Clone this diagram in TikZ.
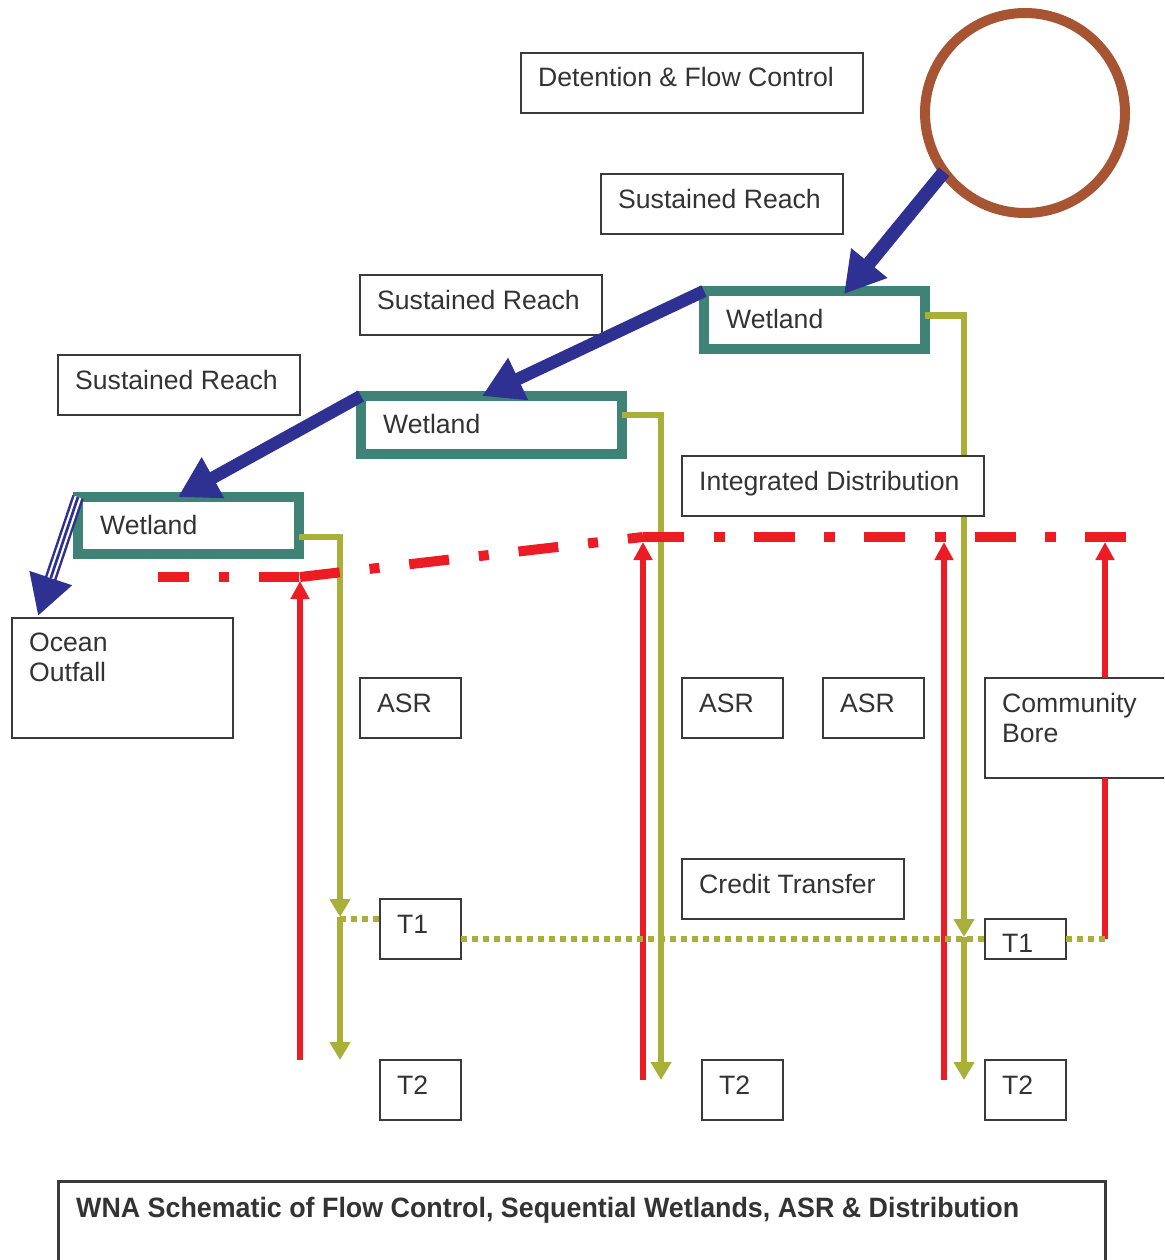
\documentclass[tikz,border=0pt]{standalone}
\usepackage{fontspec}
\setmainfont{Liberation Sans}
\usetikzlibrary{arrows.meta}

\definecolor{wetteal}{RGB}{63,131,118}
\definecolor{ringbrown}{RGB}{166,84,50}
\definecolor{flowblue}{RGB}{46,49,146}
\definecolor{feedolive}{RGB}{168,176,58}
\definecolor{distred}{RGB}{237,28,36}
\definecolor{boxgray}{RGB}{58,58,58}
\definecolor{inkgray}{RGB}{51,51,51}

\begin{document}
\begin{tikzpicture}[x=1pt,y=-1pt,
  box/.style={draw=boxgray, line width=2.5pt, fill=white, anchor=north west,
    inner sep=0pt, outer sep=0pt},
  wet/.style={draw=wetteal, line width=10pt, fill=white, anchor=north west,
    inner sep=0pt, outer sep=0pt},
  txt/.style={font=\fontsize{26.6}{30}\selectfont, text=inkgray,
    anchor=base west, inner sep=0pt},
  flow/.style={draw=flowblue, line width=12.5pt, -{Triangle[length=40pt,width=44pt]}},
  feed/.style={draw=feedolive, line width=6.5pt, -{Triangle[length=18pt,width=20pt]}},
  creditline/.style={draw=feedolive, line width=6pt, dash pattern=on 6pt off 5pt},
  supply/.style={draw=distred, line width=6pt, -{Triangle[length=18pt,width=18pt]}},
  distline/.style={draw=distred, line width=10pt}]

\useasboundingbox (0,0) rectangle (1164,1260);
\clip (0,0) rectangle (1164,1260);

% storage reservoir
\node[draw=ringbrown, line width=10pt, circle, minimum size=200pt,
  inner sep=0pt, outer sep=0pt] (reservoir) at (1025,113) {};

% sequential wetlands
\node[wet, minimum width=221pt, minimum height=58pt] (w1) at (704,291) {};
\node[wet, minimum width=261pt, minimum height=58pt] (w2) at (361,396) {};
\node[wet, minimum width=221pt, minimum height=57pt] (w3) at (78,497) {};

% free ends of the feed and supply lines
\coordinate (o1mid) at (964,937);
\coordinate (o1end) at (964,1080);
\coordinate (o2end) at (661,1080);
\coordinate (o3mid) at (340,917);
\coordinate (o3end) at (340,1060);

% wetland outflows
\draw[feed] ([yshift=4.5pt]w1.east) -| (o1mid);
\draw[feed] (o1mid) -- (o1end);
\draw[feed] ([yshift=10pt]w2.east) -| (o2end);
\draw[feed] ([yshift=-11.5pt]w3.east) -| (o3mid);
\draw[feed] (o3mid) -- (o3end);

% labelled boxes
\node[box, minimum width=342pt, minimum height=60pt] (det) at (521,53) {};
\node[box, minimum width=242pt, minimum height=60pt] (sr1) at (601,174) {};
\node[box, minimum width=242pt, minimum height=60pt] (sr2) at (360,275) {};
\node[box, minimum width=242pt, minimum height=60pt] (sr3) at (58,355) {};
\node[box, minimum width=302pt, minimum height=60pt] (dist) at (682,456) {};
\node[box, minimum width=221pt, minimum height=120pt] (ocean) at (12,618) {};
\node[box, minimum width=101pt, minimum height=60pt] (asr1) at (360,678) {};
\node[box, minimum width=101pt, minimum height=60pt] (asr2) at (682,678) {};
\node[box, minimum width=101pt, minimum height=60pt] (asr3) at (823,678) {};
\node[box, minimum width=185pt, minimum height=100pt] (cb) at (985,678) {};
\node[box, minimum width=222pt, minimum height=60pt] (credit) at (682,859) {};
\node[box, minimum width=81pt, minimum height=60pt] (t1l) at (380,899) {};
\node[box, minimum width=81pt, minimum height=40pt] (t1r) at (985,919) {};
\node[box, minimum width=81pt, minimum height=60pt] (t2a) at (380,1060) {};
\node[box, minimum width=81pt, minimum height=60pt] (t2b) at (702,1060) {};
\node[box, minimum width=81pt, minimum height=60pt] (t2c) at (985,1060) {};
\node[box, minimum width=1047pt, minimum height=100pt, line width=3pt] (title) at (58,1181) {};

% box texts
\node[txt] (detT) at ([xshift=17pt,yshift=-34pt]det.north west) {Detention \& Flow Control};
\node[txt] (sr1T) at ([xshift=17pt,yshift=-34pt]sr1.north west) {Sustained Reach};
\node[txt] (sr2T) at ([xshift=17pt,yshift=-34pt]sr2.north west) {Sustained Reach};
\node[txt] (sr3T) at ([xshift=17pt,yshift=-34pt]sr3.north west) {Sustained Reach};
\node[txt] (distT) at ([xshift=17pt,yshift=-34pt]dist.north west) {Integrated Distribution};
\node[txt, text width=180pt, align=left] (oceanT) at ([xshift=17pt,yshift=-33pt]ocean.north west) {Ocean\\Outfall};
\node[txt] (asr1T) at ([xshift=17pt,yshift=-34pt]asr1.north west) {ASR};
\node[txt] (asr2T) at ([xshift=17pt,yshift=-34pt]asr2.north west) {ASR};
\node[txt] (asr3T) at ([xshift=17pt,yshift=-34pt]asr3.north west) {ASR};
\node[txt, text width=170pt, align=left] (cbT) at ([xshift=17pt,yshift=-34pt]cb.north west) {Community\\Bore};
\node[txt] (creditT) at ([xshift=17pt,yshift=-34pt]credit.north west) {Credit Transfer};
\node[txt] (t1lT) at ([xshift=17pt,yshift=-34pt]t1l.north west) {T1};
\node[txt] (t1rT) at ([xshift=17pt,yshift=-33pt]t1r.north west) {T1};
\node[txt] (t2aT) at ([xshift=17pt,yshift=-34pt]t2a.north west) {T2};
\node[txt] (t2bT) at ([xshift=17pt,yshift=-34pt]t2b.north west) {T2};
\node[txt] (t2cT) at ([xshift=17pt,yshift=-34pt]t2c.north west) {T2};
\node[txt] (w1T) at ([xshift=22pt,yshift=-37pt]w1.north west) {Wetland};
\node[txt] (w2T) at ([xshift=22pt,yshift=-37pt]w2.north west) {Wetland};
\node[txt] (w3T) at ([xshift=22pt,yshift=-37pt]w3.north west) {Wetland};
\node[txt, font=\fontsize{28}{32}\selectfont\bfseries] (titleT)
  at ([xshift=18pt,yshift=-36pt]title.north west)
  {\resizebox{943pt}{\height}{WNA Schematic of Flow Control, Sequential Wetlands, ASR \& Distribution}};

% distribution main (dash-dot)
\coordinate (rd1) at (158,577);
\coordinate (rd2) at (300,577);
\coordinate (rd3) at (643,537);
\coordinate (rd4) at (1127,537);
\draw[distline, dash pattern=on 40pt off 30pt on 10pt off 30pt, dash phase=9pt] (rd1) -- (rd2);
\draw[distline, dash pattern=on 40pt off 30pt on 10pt off 30pt] (rd2) -- (rd3);
\draw[distline, dash pattern=on 41pt off 29.5pt on 11pt off 29pt] (rd3) -- (rd4);

% supply risers
\coordinate (r1foot) at (300,1060);
\coordinate (r1tip) at (300,581);
\coordinate (r2foot) at (643,1080);
\coordinate (r2tip) at (643,542);
\coordinate (r3foot) at (944,1080);
\coordinate (r3tip) at (944,542);
\coordinate (cbfoot) at (1105,939);
\coordinate (r4tip) at (1105,542);
\draw[supply] (r1foot) -- (r1tip);
\draw[supply] (r2foot) -- (r2tip);
\draw[supply] (r3foot) -- (r3tip);
\draw[distred, line width=6pt] (cbfoot) -- (cb.south -| cbfoot);
\draw[supply] (cb.north -| cbfoot) -- (r4tip);

% credit transfer links
\coordinate (c1) at (340,919);
\draw[creditline] (c1) -- ([yshift=10pt]t1l.west);
\draw[creditline] ([yshift=-10pt]t1l.east) -- (t1r.west);
\draw[creditline] (t1r.east) -- (cbfoot);

% flows between reservoir, wetlands and outfall
\draw[flow, line width=13.5pt] (reservoir.216.6) -- ([xshift=140pt,yshift=-3pt]w1.north west);
\draw[flow] (w1.north west) -- ([xshift=121pt]w2.north west);
\draw[flow] (w2.north west) -- ([xshift=100pt]w3.north west);
\coordinate (outfallTip) at ([xshift=26pt,yshift=2pt]ocean.north west);
\draw[flowblue, line width=12pt, -{Triangle[length=40pt,width=42pt]}] (w3.north west) -- (outfallTip);
\draw[white, line width=7pt, shorten >=40pt] (w3.north west) -- (outfallTip);
\draw[flowblue, line width=2.7pt, shorten >=40pt] (w3.north west) -- (outfallTip);

\end{tikzpicture}
\end{document}
